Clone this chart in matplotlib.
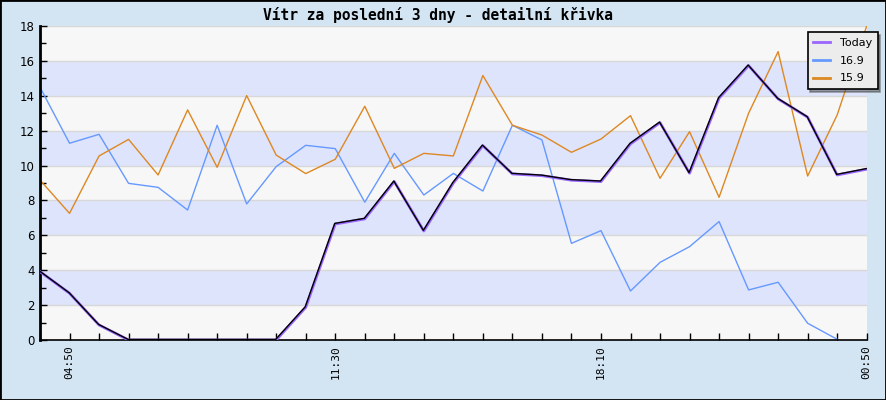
import matplotlib
matplotlib.use("Agg")
import matplotlib.pyplot as plt
import matplotlib.transforms as mtransforms
from matplotlib.patches import Rectangle
import numpy as np

title = "Vítr za poslední 3 dny - detailní křivka"
tick_positions = [1, 10, 19, 28]
tick_labels = ["04:50", "11:30", "18:10", "00:50"]

today = [3.92, 2.68, 0.86, 0.0, 0.0, 0.0, 0.0, 0.0, 0.0, 1.87, 6.65, 6.94, 9.08, 6.25,
         9.0, 11.14, 9.52, 9.42, 9.16, 9.08, 11.24, 12.46, 9.56, 13.86, 15.73, 13.82,
         12.77, 9.46, 9.79]
s169 = [14.49, 11.28, 11.79, 8.98, 8.75, 7.45, 12.31, 7.8, 9.94, 11.16, 10.97, 7.9, 10.7,
        8.31, 9.55, 8.54, 12.31, 11.47, 5.54, 6.27, 2.81, 4.45, 5.35, 6.79, 2.87, 3.31,
        0.96, 0.04, np.nan]
s159 = [9.17, 7.26, 10.55, 11.5, 9.46, 13.19, 9.9, 14.01, 10.6, 9.54, 10.36, 13.4, 9.84,
        10.7, 10.55, 15.16, 12.31, 11.75, 10.76, 11.52, 12.86, 9.27, 11.94, 8.18, 13.0,
        16.53, 9.4, 12.9, 18.0]
series_names = ["Today", "16.9", "15.9"]

c_today = "#9966ff"
c_169 = "#6699ff"
c_159 = "#dd8822"
bg = "#d3e5f3"

fig = plt.figure(figsize=(8.86, 4.0), dpi=100, facecolor=bg)
ax = fig.add_axes([40/886, 60/400, 826.7/886, 314/400])
ax.set_facecolor("#f7f7f7")

# bands
for lo in range(0, 18, 2):
    col = "#dde4fc" if (lo // 2) % 2 == 1 else "#f7f7f7"
    ax.axhspan(lo, lo + 2, color=col, zorder=0, lw=0)
for v in range(2, 19, 2):
    ax.axhline(v, color="#d8d8d8", lw=1, zorder=0.5)

x = np.arange(len(today))
ax.plot(x, s169, color=c_169, lw=1, zorder=2, label=series_names[1])
ax.plot(x, s159, color=c_159, lw=1, zorder=2, label=series_names[2])
ax.plot(x, today, color=c_today, lw=2, zorder=3, label=series_names[0])
off = mtransforms.offset_copy(ax.transData, fig=fig, x=-0.5, y=0.6, units="dots")
ax.plot(x, today, color="black", lw=1, zorder=4, transform=off)

ax.set_xlim(0, 28)
ax.set_ylim(0, 18)

ax.set_xticks(x, minor=True)
ax.set_xticks(tick_positions)
ax.set_xticklabels(tick_labels, rotation=90, fontsize=8, family="DejaVu Sans Mono")
ax.set_yticks(range(0, 19, 2))
ax.set_yticks(range(1, 18, 2), minor=True)
ax.tick_params(axis="y", labelsize=8.5)
ax.tick_params(which="both", direction="in", length=5, width=1, color="black")
ax.tick_params(axis="y", which="minor", length=4)
ax.tick_params(axis="x", pad=4)
ax.tick_params(axis="y", pad=4)

for s in ["top", "right"]:
    ax.spines[s].set_visible(False)
ax.spines["left"].set_linewidth(2)
ax.spines["bottom"].set_linewidth(1.2)

fig.text(0.494, 1 - 15/400, title, ha="center", va="center", fontsize=10.5,
         family="DejaVu Sans Mono", weight="bold")

handles, labels = ax.get_legend_handles_labels()
order = [2, 0, 1]
leg = fig.legend([handles[i] for i in order], [labels[i] for i in order],
                 loc="upper right", bbox_to_anchor=(877.7/886, 1 - 32.3/400),
                 fontsize=8, frameon=True, fancybox=False, shadow=True,
                 edgecolor="black", facecolor="#ececec", framealpha=1,
                 handlelength=1.5, handletextpad=0.9, borderpad=0.5, labelspacing=0.7,
                 borderaxespad=0)
for l in leg.get_lines():
    l.set_linewidth(2)
leg.get_frame().set_linewidth(1.2)

fig.patches.append(Rectangle((0, 0), 1, 1, transform=fig.transFigure, fill=False,
                             edgecolor="black", lw=2, zorder=10))

fig.savefig("out.png", dpi=100, facecolor=bg)
